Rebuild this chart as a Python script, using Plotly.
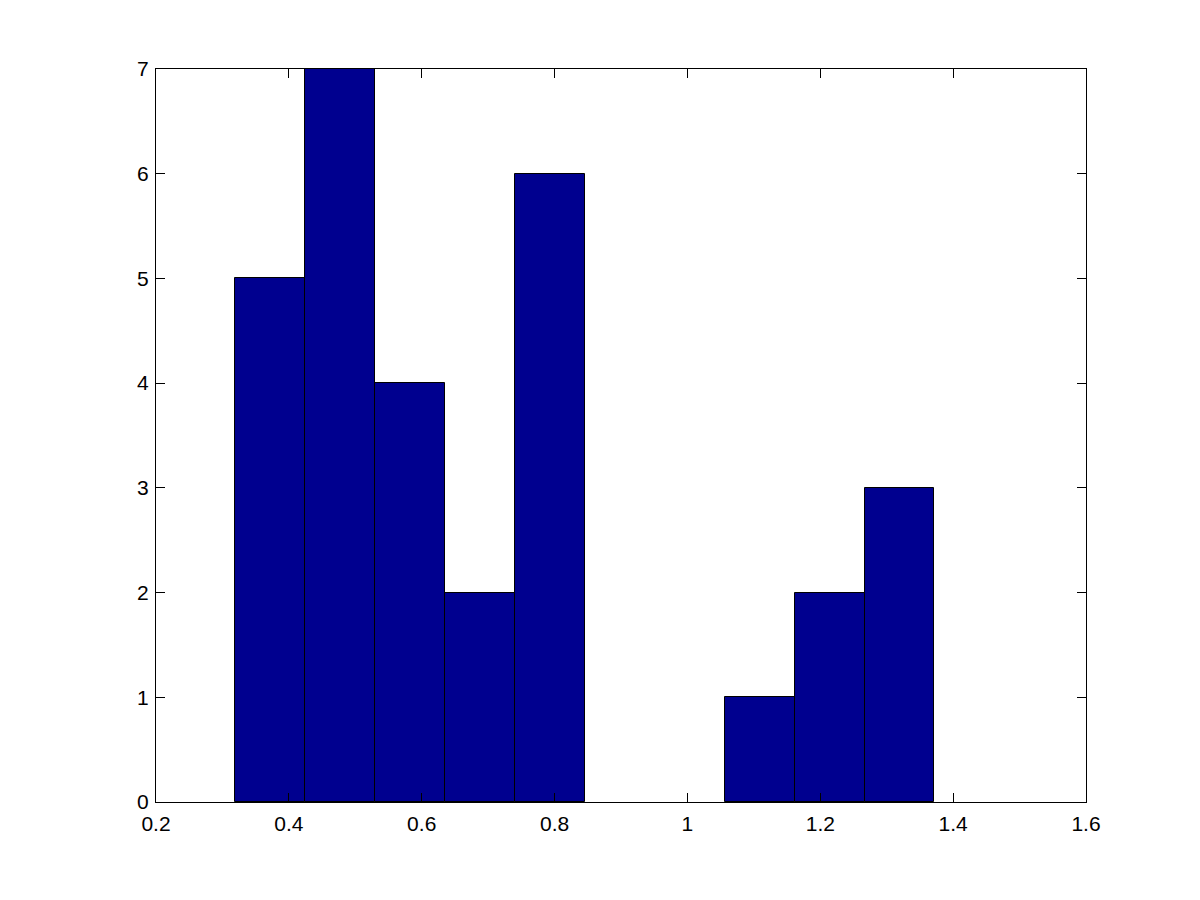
import plotly.graph_objects as go

bin_edges = [0.3189, 0.4242, 0.5295, 0.6348, 0.7401, 0.8454, 0.9507, 1.0560, 1.1613, 1.2666, 1.3719]
counts = [5, 7, 4, 2, 6, 0, 0, 1, 2, 3]
x_ticks = [0.2, 0.4, 0.6, 0.8, 1.0, 1.2, 1.4, 1.6]
x_tick_labels = ["0.2", "0.4", "0.6", "0.8", "1", "1.2", "1.4", "1.6"]
y_ticks = [0, 1, 2, 3, 4, 5, 6, 7]

centers = [(bin_edges[i] + bin_edges[i + 1]) / 2 for i in range(len(counts))]
widths = [bin_edges[i + 1] - bin_edges[i] for i in range(len(counts))]
edge_widths = [1 if c > 0 else 0 for c in counts]

fig = go.Figure(go.Bar(
    x=centers, y=counts, width=widths,
    marker=dict(color="#00008F", line=dict(color="black", width=edge_widths)),
))

axis_common = dict(
    showgrid=False, zeroline=False, showline=True, linecolor="black", linewidth=1,
    mirror="ticks", ticks="inside", ticklen=9, tickcolor="black",
    tickfont=dict(family="Liberation Sans, Arial, sans-serif", size=21, color="black"),
)

fig.update_layout(
    width=1200, height=900,
    paper_bgcolor="white", plot_bgcolor="white",
    margin=dict(l=148, r=122, t=61, b=106),
    showlegend=False, bargap=0,
    xaxis=dict(range=[0.2, 1.6], tickvals=x_ticks, ticktext=x_tick_labels,
               ticklabelstandoff=3, **axis_common),
    yaxis=dict(range=[0, 7], tickvals=y_ticks, ticklabelstandoff=2, **axis_common),
)

fig.write_html("out.html")
